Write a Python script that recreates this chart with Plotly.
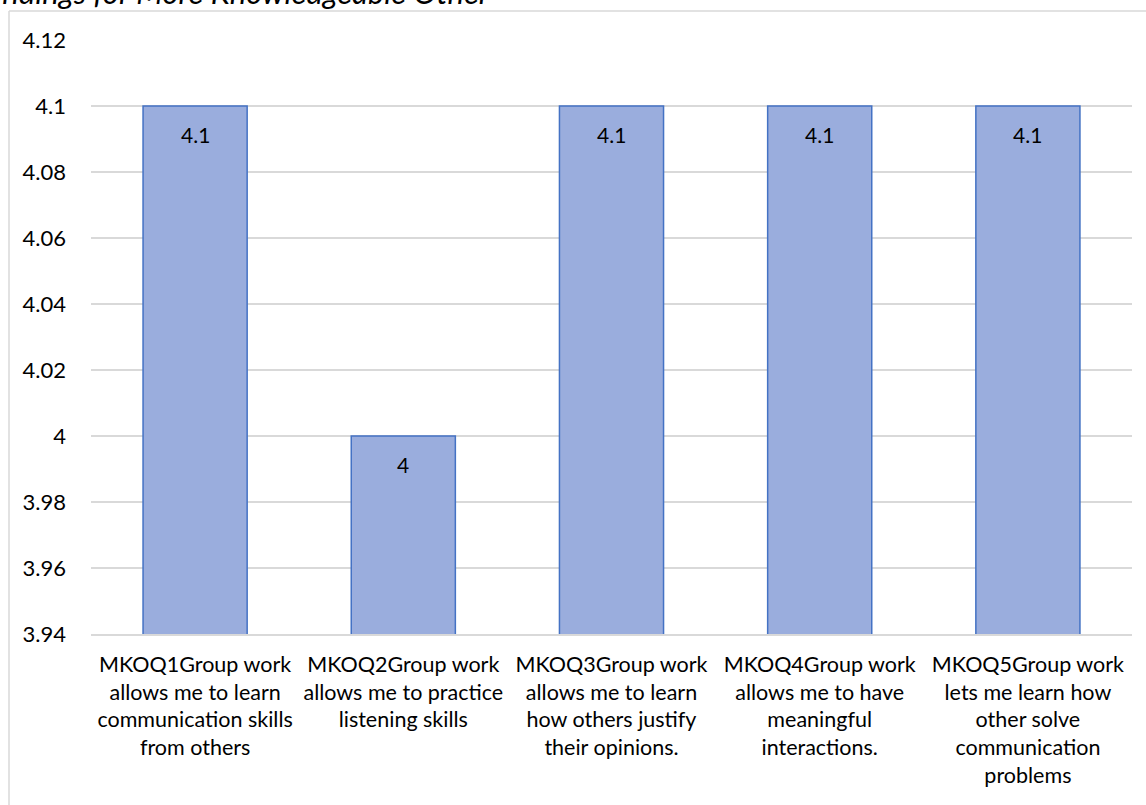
import plotly.graph_objects as go

categories = [
    "MKOQ1Group work<br>allows me to learn<br>communication skills<br>from others",
    "MKOQ2Group work<br>allows me to practice<br>listening skills",
    "MKOQ3Group work<br>allows me to learn<br>how others justify<br>their opinions.",
    "MKOQ4Group work<br>allows me to have<br>meaningful<br>interactions.",
    "MKOQ5Group work<br>lets me learn how<br>other solve<br>communication<br>problems",
]
values = [4.1, 4.0, 4.1, 4.1, 4.1]
value_labels = ["4.1", "4", "4.1", "4.1", "4.1"]
y_tickvals = [3.94, 3.96, 3.98, 4.0, 4.02, 4.04, 4.06, 4.08, 4.1, 4.12]
y_ticktext = ["3.94", "3.96", "3.98", "4", "4.02", "4.04", "4.06", "4.08", "4.1", "4.12"]
title_text = "Findings for More Knowledgeable Other"

FONT = "Lato"
W, H = 1146, 805
L, R, T, B = 91, 14, 40, 171
pw, ph = W - L - R, H - T - B

fig = go.Figure()
fig.add_trace(go.Bar(
    x=categories, y=values,
    marker=dict(color="#9AADDD", line=dict(color="#4472C4", width=1.5)),
    hoverinfo="skip",
))

annotations = []
for c, v, t in zip(categories, values, value_labels):
    annotations.append(dict(
        x=c, y=v, xref="x", yref="y", text=t, showarrow=False,
        yanchor="middle", yshift=-28,
        font=dict(family=FONT, size=21, color="#000000"),
    ))
annotations.append(dict(
    x=(493 - L) / pw, y=(T + ph + 8) / ph, xref="paper", yref="paper",
    xanchor="right", yanchor="middle", showarrow=False,
    text="<i>" + title_text + "</i>",
    font=dict(family=FONT, size=31, color="#000000"),
))

shapes = [
    dict(type="line", xref="paper", yref="paper",
         x0=(9 - L) / pw, x1=(W + 20 - L) / pw,
         y0=(T + ph - 11) / ph, y1=(T + ph - 11) / ph,
         line=dict(color="#D9D9D9", width=1.5)),
    dict(type="line", xref="paper", yref="paper",
         x0=(9 - L) / pw, x1=(9 - L) / pw,
         y0=(T + ph - 11) / ph, y1=-(B + 20) / ph,
         line=dict(color="#D9D9D9", width=1.5)),
]

fig.update_layout(
    width=W, height=H,
    margin=dict(l=L, r=R, t=T, b=B, pad=0),
    paper_bgcolor="white", plot_bgcolor="white",
    bargap=0.5,
    showlegend=False,
    hovermode=False,
    annotations=annotations,
    shapes=shapes,
    font=dict(family=FONT, size=22, color="#000000"),
    xaxis=dict(
        type="category", showgrid=False, showline=True,
        linecolor="#D9D9D9", linewidth=1.5, ticks="",
        tickfont=dict(family=FONT, size=21.5, color="#000000"),
        ticklabelstandoff=10, tickangle=0,
    ),
    yaxis=dict(
        range=[3.94, 4.12], tickvals=y_tickvals, ticktext=y_ticktext,
        showgrid=True, gridcolor="#D9D9D9", gridwidth=1.5,
        zeroline=False, showline=False, ticks="",
        tickfont=dict(family=FONT, size=22, color="#000000"),
        ticklabelstandoff=24,
    ),
)

fig.write_html(
    "out.html",
    config={"displayModeBar": False},
    post_script="document.body.style.margin='0';document.body.style.overflow='hidden';",
)
